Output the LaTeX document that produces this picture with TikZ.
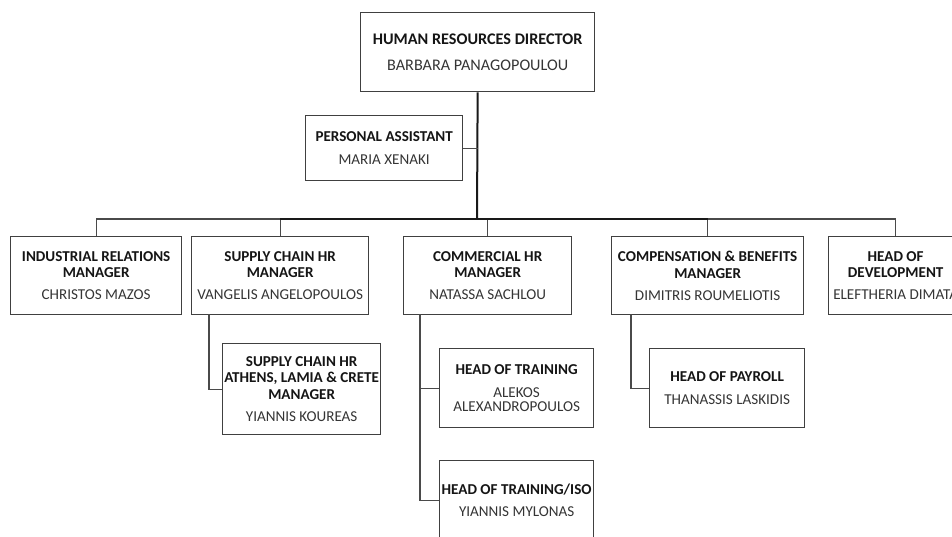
\documentclass[tikz,border=0pt]{standalone}
\usepackage{fontspec}
\setmainfont{Carlito}
\definecolor{boxline}{HTML}{404040}
\definecolor{connline}{HTML}{4A4A4A}
\definecolor{titletxt}{HTML}{151515}
\definecolor{nametxt}{HTML}{353535}
\newcommand{\ttl}[1]{{\color{titletxt}\bfseries #1}}
\newcommand{\nm}[1]{{\color{nametxt}#1}}
\tikzset{
  card/.style={draw=boxline, line width=1.3pt, rectangle, inner sep=0pt, align=center,
    anchor=north west, font=\fontsize{15.1}{16.5}\selectfont},
  bigcard/.style={card, font=\fontsize{16.2}{17}\selectfont},
  thinline/.style={draw=connline, line width=1.2pt},
  thickline/.style={draw=black!90, line width=2pt}
}
\begin{document}
\begin{tikzpicture}[x=1pt,y=-1pt]
\useasboundingbox (0,0) rectangle (952,536);
\clip (0,0) rectangle (952,536);
\fill[white] (0,0) rectangle (952,536);

% boxes
\node[bigcard, minimum width=234pt, minimum height=79pt] (dir) at (360,12)
  {\ttl{HUMAN RESOURCES DIRECTOR}\\[9pt]\nm{BARBARA PANAGOPOULOU}};
\node[card, minimum width=157pt, minimum height=65pt] (pa) at (305,115)
  {\ttl{PERSONAL ASSISTANT}\\[6pt]\nm{MARIA XENAKI}};

\node[card, minimum width=171pt, minimum height=78pt] (ir) at (10,236)
  {\ttl{INDUSTRIAL RELATIONS}\\\ttl{MANAGER}\\[5.5pt]\nm{CHRISTOS MAZOS}};
\node[card, minimum width=177pt, minimum height=78pt] (sc) at (191,236)
  {\ttl{SUPPLY CHAIN HR}\\\ttl{MANAGER}\\[5.5pt]\nm{VANGELIS ANGELOPOULOS}};
\node[card, minimum width=168pt, minimum height=78pt] (com) at (403,236)
  {\ttl{COMMERCIAL HR}\\\ttl{MANAGER}\\[5.5pt]\nm{NATASSA SACHLOU}};
\node[card, minimum width=192pt, minimum height=78pt] (cb) at (611,236)
  {\ttl{COMPENSATION \& BENEFITS}\\\ttl{MANAGER}\\[5.5pt]\nm{DIMITRIS ROUMELIOTIS}};
\node[card, minimum width=134pt, minimum height=78pt] (hod) at (828,236)
  {\ttl{HEAD OF}\\\ttl{DEVELOPMENT}\\[5.5pt]\nm{ELEFTHERIA DIMATA}};

\node[card, minimum width=158pt, minimum height=91pt] (scs) at (222,343)
  {\ttl{SUPPLY CHAIN HR}\\\ttl{ATHENS, LAMIA \& CRETE}\\\ttl{MANAGER}\\[6pt]\nm{YIANNIS KOUREAS}};
\node[card, minimum width=154pt, minimum height=79pt] (hot) at (439,348)
  {\ttl{HEAD OF TRAINING}\\[6.5pt]\nm{ALEKOS}\\[-2pt]\nm{ALEXANDROPOULOS}};
\node[card, minimum width=154pt, minimum height=79pt] (iso) at (439,460)
  {\ttl{HEAD OF TRAINING/ISO}\\[6pt]\nm{YIANNIS MYLONAS}};
\node[card, minimum width=155pt, minimum height=79pt] (pay) at (649,348)
  {\ttl{HEAD OF PAYROLL}\\[6pt]\nm{THANASSIS LASKIDIS}};

% connector points
\coordinate (bus) at (477,219);
\coordinate (scv) at (209,314);
\coordinate (comv) at (420,314);
\coordinate (cbv) at (631,314);

% bus and drops
\draw[thinline] (ir.north) -- (ir.north |- bus) -- (sc.north |- bus);
\draw[thinline] (cb.north |- bus) -- (hod.north |- bus) -- (hod.north);
\draw[thinline] (sc.north) -- (sc.north |- bus);
\draw[thinline] (com.north) -- (com.north |- bus);
\draw[thinline] (cb.north) -- (cb.north |- bus);
\draw[thickline] (sc.north |- bus) -- (cb.north |- bus);
\draw[thickline] (dir.south) -- (bus);
\draw[thinline] (pa.east) -- (pa.east -| dir.south);

% subordinates
\draw[thinline] (scv) |- (scs.west);
\draw[thinline] (comv) |- (iso.west);
\draw[thinline] (comv |- hot.west) -- (hot.west);
\draw[thinline] (cbv) |- (pay.west);
\end{tikzpicture}
\end{document}
